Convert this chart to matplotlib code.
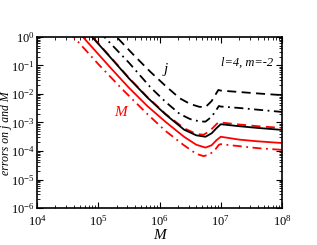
import numpy as np
import matplotlib
matplotlib.use("Agg")
import matplotlib.pyplot as plt

plt.rcParams['font.family'] = ['Liberation Serif', 'DejaVu Serif']
plt.rcParams['mathtext.fontset'] = 'stix'

# log10(M) sample points and log10(error)
lm_j_dash = [5.0, 5.3, 5.6, 5.85, 6.1, 6.33, 6.5, 6.65, 6.75, 6.85, 6.92, 6.96, 7.0, 7.3, 7.6, 8.0]
le_j_dash = [0.7, 0.0, -0.68, -1.22, -1.72, -2.15, -2.35, -2.45, -2.46, -2.25, -2.0, -1.86, -1.88, -1.93, -1.98, -2.04]

lm_j_dd = [4.8, 5.1, 5.5, 5.85, 6.1, 6.33, 6.5, 6.65, 6.75, 6.85, 6.93, 6.97, 7.0, 7.3, 7.6, 8.0]
le_j_dd = [0.7, 0.0, -0.9, -1.76, -2.28, -2.7, -2.88, -2.96, -2.97, -2.8, -2.55, -2.42, -2.44, -2.49, -2.55, -2.63]

lm_j_sol = [4.6, 4.9, 5.2, 5.5, 5.8, 6.1, 6.4, 6.6, 6.75, 6.85, 6.93, 7.0, 7.3, 7.6, 8.0]
le_j_sol = [0.7, 0.0, -0.72, -1.45, -2.12, -2.72, -3.25, -3.45, -3.5, -3.38, -3.2, -3.06, -3.13, -3.19, -3.26]

lm_m_dash = [4.6, 4.9, 5.2, 5.5, 5.8, 6.1, 6.4, 6.6, 6.72, 6.82, 6.92, 6.97, 7.0, 7.3, 7.6, 8.0]
le_m_dash = [0.72, 0.02, -0.7, -1.43, -2.1, -2.7, -3.2, -3.4, -3.43, -3.3, -3.08, -2.98, -3.0, -3.07, -3.13, -3.19]

lm_m_sol = [4.45, 4.75, 5.2, 5.5, 5.8, 6.1, 6.4, 6.6, 6.75, 6.85, 6.93, 7.0, 7.3, 7.6, 8.0]
le_m_sol = [0.7, 0.0, -1.08, -1.78, -2.42, -2.98, -3.5, -3.78, -3.88, -3.8, -3.62, -3.5, -3.6, -3.66, -3.72]

lm_m_dd = [4.3, 4.6, 5.0, 5.4, 5.8, 6.1, 6.4, 6.6, 6.72, 6.82, 6.92, 6.97, 7.0, 7.3, 7.6, 8.0]
le_m_dd = [0.7, 0.0, -0.95, -1.85, -2.7, -3.3, -3.8, -4.1, -4.18, -4.12, -3.92, -3.78, -3.76, -3.83, -3.9, -3.96]

curves = [
    (lm_j_dash, le_j_dash, 'black', (0, (5, 3))),
    (lm_j_dd, le_j_dd, 'black', (0, (5, 2.5, 1, 2.5))),
    (lm_m_dash, le_m_dash, 'red', (0, (5, 3))),
    (lm_j_sol, le_j_sol, 'black', '-'),
    (lm_m_sol, le_m_sol, 'red', '-'),
    (lm_m_dd, le_m_dd, 'red', (0, (5, 2.5, 1, 2.5))),
]

fig = plt.figure(figsize=(3.17, 2.45), dpi=100)
ax = fig.add_axes([0.1167, 0.151, 0.773, 0.698])

for lm, le, c, ls in curves:
    ax.plot(10 ** np.array(lm), 10 ** np.array(le), color=c, linestyle=ls, lw=1.3)

ax.set_xscale('log')
ax.set_yscale('log')
ax.set_xlim(1e4, 1e8)
ax.set_ylim(1e-6, 1)
ax.set_xticks([1e4, 1e5, 1e6, 1e7, 1e8])
ax.set_yticks([10.0 ** k for k in range(-6, 1)])
ax.tick_params(which='both', direction='in', top=True, right=True, labelsize=9)
ax.tick_params(axis='y', pad=1.5)
ax.tick_params(axis='x', pad=4.5)
ax.tick_params(which='major', length=4)
ax.tick_params(which='minor', length=2)
for s in ax.spines.values():
    s.set_linewidth(1.2)

ax.set_xlabel('M', style='italic', fontsize=11, labelpad=0)
fig.text(6 / 317, 1 - 133 / 245, 'errors on j and M', rotation=90, ha='center', va='center',
         style='italic', fontsize=8.5)

ax.text(0.963, 0.848, 'l=4, m=-2', transform=ax.transAxes, ha='right', va='center',
        style='italic', fontsize=9)
ax.text(0.527, 0.807, 'j', transform=ax.transAxes, ha='center', va='center',
        style='italic', fontsize=11)
ax.text(0.34, 0.556, 'M', transform=ax.transAxes, ha='center', va='center',
        style='italic', fontsize=11, color='red')

fig.savefig('out.png', dpi=100)
